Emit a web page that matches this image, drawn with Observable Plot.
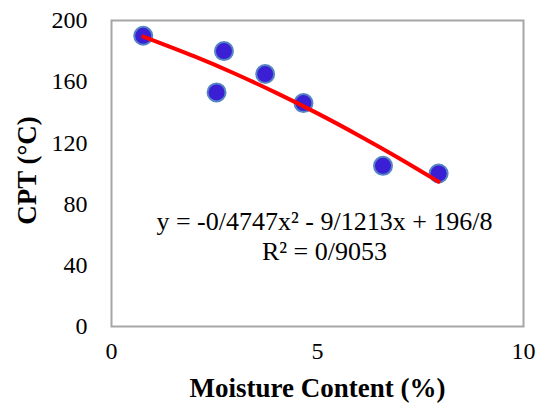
<!DOCTYPE html>
<html>
<head>
<meta charset="utf-8">
<script src="https://cdn.jsdelivr.net/npm/d3@7"></script>
<script src="https://cdn.jsdelivr.net/npm/@observablehq/plot@0.6"></script>
<style>
  html, body { margin: 0; padding: 0; background: #fff; }
  svg text, svg tspan, svg g {
    font-family: "Liberation Serif", "Times New Roman", serif !important;
    font-variant: normal !important;
    font-variant-numeric: normal !important;
  }
</style>
</head>
<body>
<div id="chart"></div>
<script>
// Observed data points
const moisture = [0.77, 2.55, 2.73, 3.73, 4.66, 6.59, 7.94];
const cpt = [190, 153, 180, 165, 146, 105, 100];

// Trend line
const trendX = [0.77, 2, 3, 4, 5, 6, 7, 7.94];
const trendY = [189.5, 176.7, 165.2, 152.7, 139.3, 124.9, 109.7, 94.6];

// Tick labels and texts
const xTicks = [0, 5, 10];
const yTicks = [0, 40, 80, 120, 160, 200];
const xTitle = "Moisture Content (%)";
const yTitle = "CPT (°C)";
const equationLines = ["y = -0/4747x² - 9/1213x + 196/8", "R² = 0/9053"];

const points = moisture.map((m, i) => ({x: m, y: cpt[i]}));
const trend = trendX.map((m, i) => ({x: m, y: trendY[i]}));

const font = "Liberation Serif, Times New Roman, serif";

const chart = Plot.plot({
  width: 543,
  height: 408,
  marginLeft: 111,
  marginRight: 20,
  marginTop: 20,
  marginBottom: 82,
  style: {fontFamily: font, fontSize: "24px", color: "#000", background: "#fff"},
  x: {domain: [0, 10], ticks: xTicks},
  y: {domain: [0, 200], ticks: yTicks},
  marks: [
    Plot.frame({stroke: "#a6a6a6", strokeWidth: 2}),
    Plot.axisX({ticks: xTicks, tickSize: 0, tickPadding: 15, label: null, fontSize: 24, fontFamily: font, fontVariant: "normal", fill: "#000"}),
    Plot.axisY({ticks: yTicks, tickSize: 0, tickPadding: 24, label: null, fontSize: 24, fontFamily: font, fontVariant: "normal", fill: "#000"}),
    Plot.dot(points, {x: "x", y: "y", r: 9, fill: "#3a1fd4", stroke: "#5585c4", strokeWidth: 2}),
    Plot.line(trend, {x: "x", y: "y", stroke: "#ff0000", strokeWidth: 4, curve: "natural"}),
    Plot.text([equationLines.join("\n")], {
      frameAnchor: "middle", dx: 7, dy: 62, fontSize: 26, lineHeight: 1.15, fontFamily: font, fill: "#000"
    }),
    Plot.text([xTitle], {frameAnchor: "bottom", dy: 70, fontSize: 27, fontWeight: "bold", fontFamily: font, fill: "#000"}),
    Plot.text([yTitle], {frameAnchor: "left", textAnchor: "middle", dx: -84, dy: -3, rotate: -90, fontSize: 27, fontWeight: "bold", fontFamily: font, fill: "#000"})
  ]
});

document.getElementById("chart").appendChild(chart);
</script>
</body>
</html>
